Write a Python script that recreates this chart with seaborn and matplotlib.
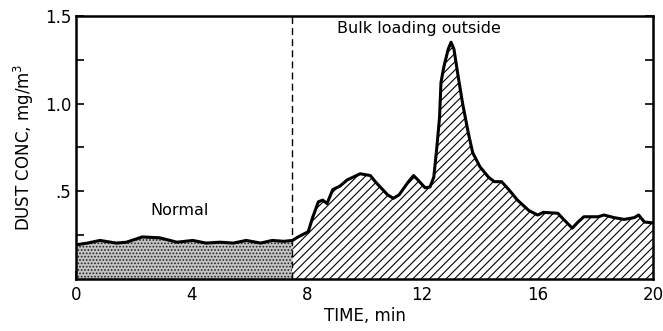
import numpy as np
import pandas as pd
import matplotlib
matplotlib.use("Agg")
import matplotlib.pyplot as plt
import seaborn as sns

# --- data ---
normal_time = [0.0, 0.4, 0.83, 1.4, 1.75, 2.3, 2.9, 3.5, 4.05, 4.5, 5.0, 5.45, 5.9, 6.4, 6.8, 7.2, 7.5]
normal_conc = [0.195, 0.205, 0.22, 0.205, 0.21, 0.24, 0.235, 0.21, 0.22, 0.205, 0.21, 0.205, 0.22, 0.205, 0.22, 0.215, 0.22]

bulk_time = [7.5, 7.7, 8.05, 8.2, 8.4, 8.55, 8.7, 8.9, 9.15, 9.4, 9.85, 10.2, 10.4, 10.8, 11.0,
             11.2, 11.5, 11.7, 11.85, 12.1, 12.27, 12.4, 12.5, 12.6, 12.65, 12.75, 12.9, 13.0,
             13.1, 13.25, 13.4, 13.6, 13.75, 14.0, 14.3, 14.5, 14.75, 15.0, 15.3, 15.7, 16.0,
             16.2, 16.7, 16.9, 17.2, 17.4, 17.6, 18.1, 18.3, 18.65, 19.0, 19.35, 19.5, 19.7, 20.0]
bulk_conc = [0.22, 0.24, 0.27, 0.35, 0.44, 0.45, 0.43, 0.51, 0.53, 0.565, 0.60, 0.59, 0.55, 0.48, 0.46,
             0.48, 0.55, 0.59, 0.565, 0.52, 0.525, 0.58, 0.74, 0.92, 1.12, 1.21, 1.31, 1.35,
             1.31, 1.15, 1.0, 0.83, 0.72, 0.64, 0.58, 0.555, 0.555, 0.51, 0.45, 0.39, 0.365,
             0.38, 0.375, 0.34, 0.29, 0.325, 0.355, 0.355, 0.365, 0.35, 0.34, 0.35, 0.365, 0.325, 0.32]

xtick_vals = [0, 4, 8, 12, 16, 20]
xtick_labels = ["0", "4", "8", "12", "16", "20"]
ytick_vals = [0.5, 1.0, 1.5]
ytick_labels = [".5", "1.0", "1.5"]
event_time = 7.5

sns.set_theme(style="ticks")
plt.rcParams['font.family'] = ['DejaVu Sans']
plt.rcParams['hatch.linewidth'] = 0.8
plt.rcParams['text.color'] = 'black'
plt.rcParams['axes.labelcolor'] = 'black'

df = pd.DataFrame({
    "time": normal_time + bulk_time[1:],
    "conc": normal_conc + bulk_conc[1:],
})

fig = plt.figure(figsize=(6.63, 3.31), dpi=100)
ax = fig.add_axes([0.1146, 0.157, 0.8704, 0.795])

ax.fill_between(normal_time, 0, normal_conc, facecolor="#c4c4c4", edgecolor="#222222",
                hatch=".....", linewidth=0)
ax.fill_between(bulk_time, 0, bulk_conc, facecolor="white", edgecolor="black",
                hatch="////", linewidth=0)
sns.lineplot(data=df, x="time", y="conc", ax=ax, color="black", linewidth=2.2)
ax.axvline(event_time, ymin=0, ymax=1, color="black", linestyle=(0, (5, 3)), linewidth=1.0)

ax.set_xlim(0, 20)
ax.set_ylim(0, 1.5)
ax.set_xticks(xtick_vals)
ax.set_xticklabels(xtick_labels)
ax.set_xticks([2, 6, 10, 14, 18], minor=True)
ax.set_yticks(ytick_vals)
ax.set_yticklabels(ytick_labels)
ax.set_yticks([0.25, 0.75, 1.25], minor=True)
ax.tick_params(axis="both", which="both", direction="in", length=6, width=1.2,
               labelsize=12, colors="black")
ax.tick_params(axis="y", which="both", right=True)
ax.tick_params(axis="x", which="major", length=6, pad=5)

for s in ax.spines.values():
    s.set_linewidth(1.8)
    s.set_color("black")

ax.set_xlabel("TIME, min", fontsize=12, labelpad=2)
ax.set_ylabel("DUST CONC, mg/m$^3$", fontsize=12, labelpad=6)

ax.text(3.6, 0.39, "Normal", ha="center", va="center", fontsize=11.5, color="black")
ax.text(11.9, 1.43, "Bulk loading outside", ha="center", va="center", fontsize=11.5, color="black")

fig.savefig("out.png", dpi=100)
